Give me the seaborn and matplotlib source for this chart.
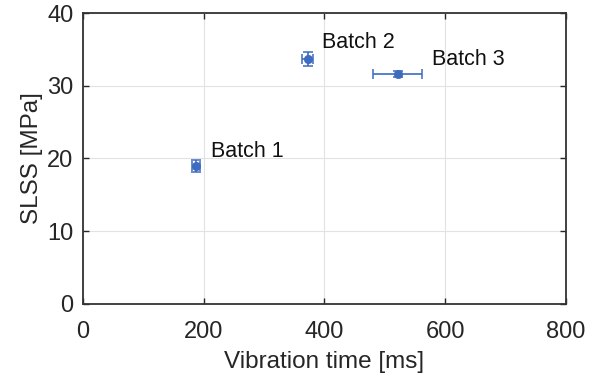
import matplotlib
matplotlib.use("Agg")
import matplotlib.pyplot as plt
import seaborn as sns
import pandas as pd

batches = ["Batch 1", "Batch 2", "Batch 3"]
vib_time = [187, 372, 521]        # ms
vib_time_err = [6, 9, 41]         # ms
slss = [18.95, 33.65, 31.65]      # MPa
slss_err = [0.87, 0.92, 0.42]     # MPa
label_x = [212, 396, 578]
label_y = [20.9, 35.9, 33.6]

x_ticks = [0, 200, 400, 600, 800]
y_ticks = [0, 10, 20, 30, 40]

df = pd.DataFrame({"batch": batches, "time": vib_time, "slss": slss})

sns.set_theme(style="whitegrid")
plt.rcParams["font.family"] = ["Liberation Sans", "DejaVu Sans"]

blue = "#3D6BBF"
spine = "#333333"

fig = plt.figure(figsize=(5.97, 3.77), dpi=100)
ax = fig.add_axes([0.139, 0.194, 0.809, 0.7715])

ax.errorbar(vib_time, slss, xerr=vib_time_err, yerr=slss_err, fmt="none",
            ecolor=blue, elinewidth=1.2, capsize=3.8, capthick=1.1, zorder=3)
sns.scatterplot(data=df, x="time", y="slss", ax=ax, color=blue, s=36,
                edgecolor=blue, linewidth=0.5, zorder=4, legend=False)

for name, tx, ty in zip(batches, label_x, label_y):
    ax.text(tx, ty, name, fontsize=15.5, color="#111111", ha="left", va="center")

ax.set_xlim(0, 800)
ax.set_ylim(0, 40)
ax.set_xticks(x_ticks)
ax.set_yticks(y_ticks)
ax.set_xlabel("Vibration time [ms]", fontsize=17.5, color="#262626", labelpad=6)
ax.set_ylabel("SLSS [MPa]", fontsize=17.5, color="#262626", labelpad=3)
ax.tick_params(axis="both", labelsize=17, colors="#262626", direction="in",
               length=4, width=1.0, top=True, right=True, bottom=True, left=True)
ax.tick_params(axis="x", pad=12)
ax.tick_params(axis="y", pad=7)
ax.grid(True, color="#E2E2E2", linewidth=0.8)
for s in ax.spines.values():
    s.set_visible(True)
    s.set_color(spine)
    s.set_linewidth(1.3)
ax.set_facecolor("white")

fig.savefig("out.png", dpi=100, facecolor="white")
